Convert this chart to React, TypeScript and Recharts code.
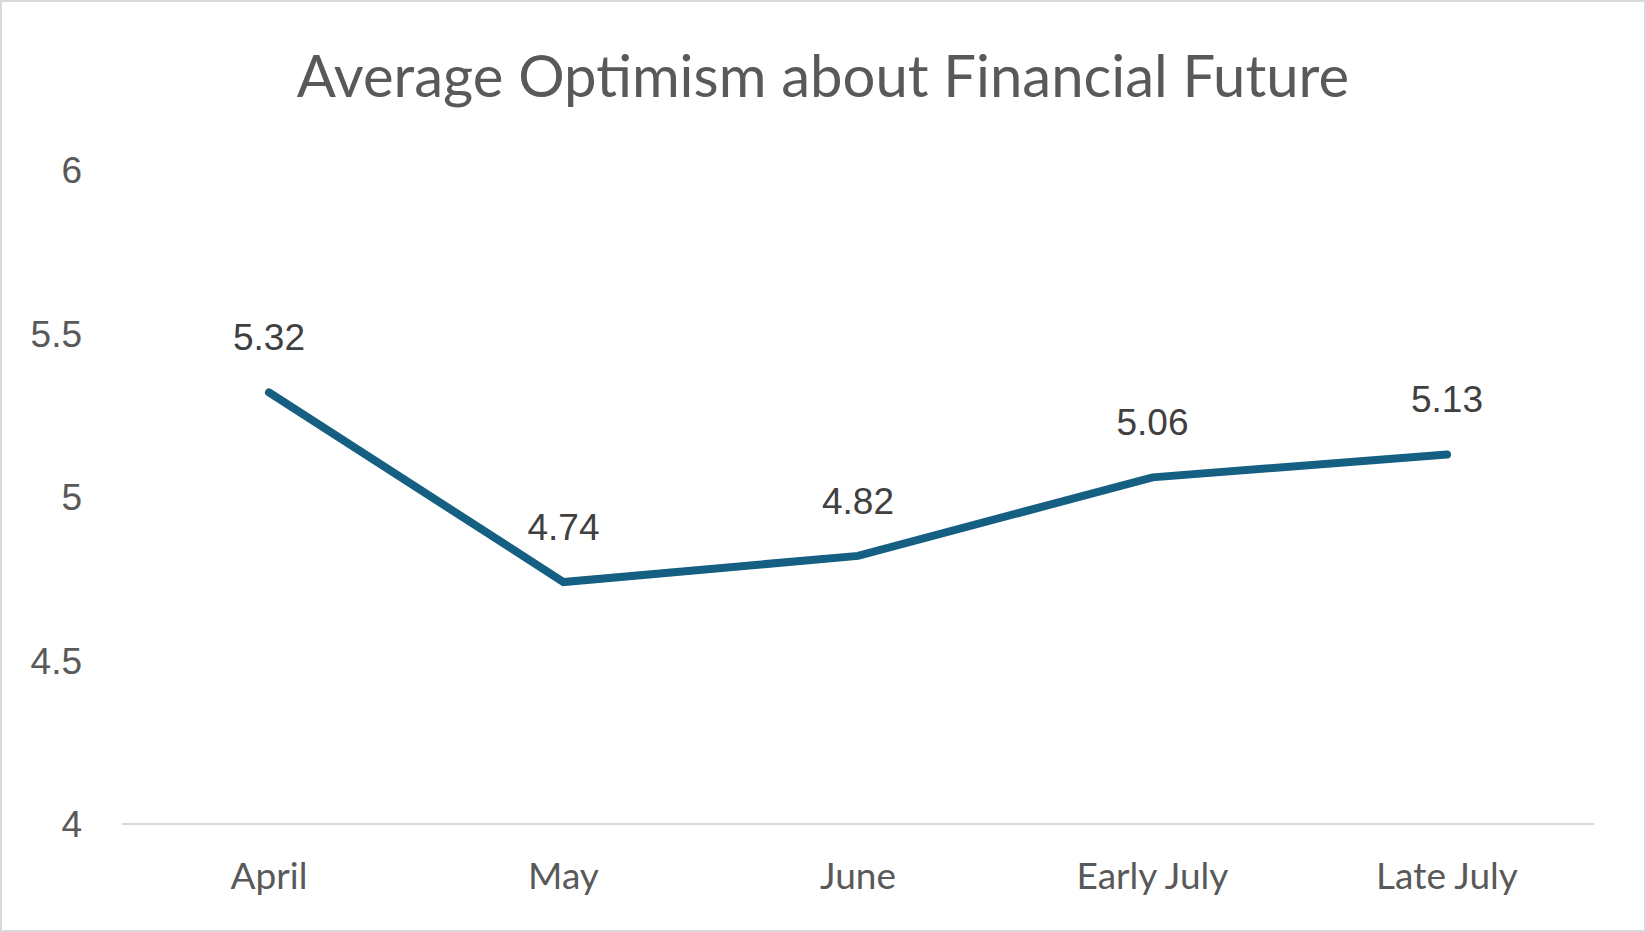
import { LineChart, Line, XAxis, YAxis, LabelList } from 'recharts'

const periods = ['April', 'May', 'June', 'Early July', 'Late July']
const optimism = [5.32, 4.74, 4.82, 5.06, 5.13]
const yTicks = [4, 4.5, 5, 5.5, 6]

const data = periods.map((period, i) => ({ period, value: optimism[i] }))

const W = 1646
const H = 932

function App() {
	return (
		<div
			style={{
				position: 'absolute',
				left: 0,
				top: 0,
				width: W,
				height: H,
				background: '#fff',
				boxSizing: 'border-box',
				border: '2px solid #d9d9d9'
			}}
		>
			<svg
				width={W}
				height={H}
				style={{ position: 'absolute', left: -2, top: -2, pointerEvents: 'none' }}
			>
				<text
					x={823}
					y={97}
					textAnchor='middle'
					fontFamily='Lato'
					fontSize={58}
					fill='#595959'
				>
					Average Optimism about Financial Future
				</text>
			</svg>
			<div style={{ position: 'absolute', left: -2, top: -2 }}>
				<LineChart
					width={W}
					height={H}
					data={data}
					margin={{ top: 170, right: 52, left: 22, bottom: 30 }}
				>
					<XAxis
						dataKey='period'
						padding={{ left: 147, right: 147 }}
						axisLine={{ stroke: '#d9d9d9', strokeWidth: 2 }}
						tickLine={false}
						tickSize={0}
						tickMargin={39}
						height={78}
						tick={{ fontFamily: 'Lato', fontSize: 37, fill: '#595959' }}
					/>
					<YAxis
						domain={[4, 6]}
						ticks={yTicks}
						axisLine={false}
						tickLine={false}
						tickSize={0}
						tickMargin={40}
						width={100}
						tick={{ fontFamily: 'Liberation Sans', fontSize: 37, fill: '#595959' }}
					/>
					<Line
						type='linear'
						dataKey='value'
						stroke='#156082'
						strokeWidth={8}
						strokeLinecap='round'
						dot={false}
						activeDot={false}
						isAnimationActive={false}
					>
						<LabelList
							dataKey='value'
							position='top'
							offset={42}
							fontFamily='Liberation Sans'
							fontSize={37}
							fill='#404040'
						/>
					</Line>
				</LineChart>
			</div>
		</div>
	)
}

export default App
